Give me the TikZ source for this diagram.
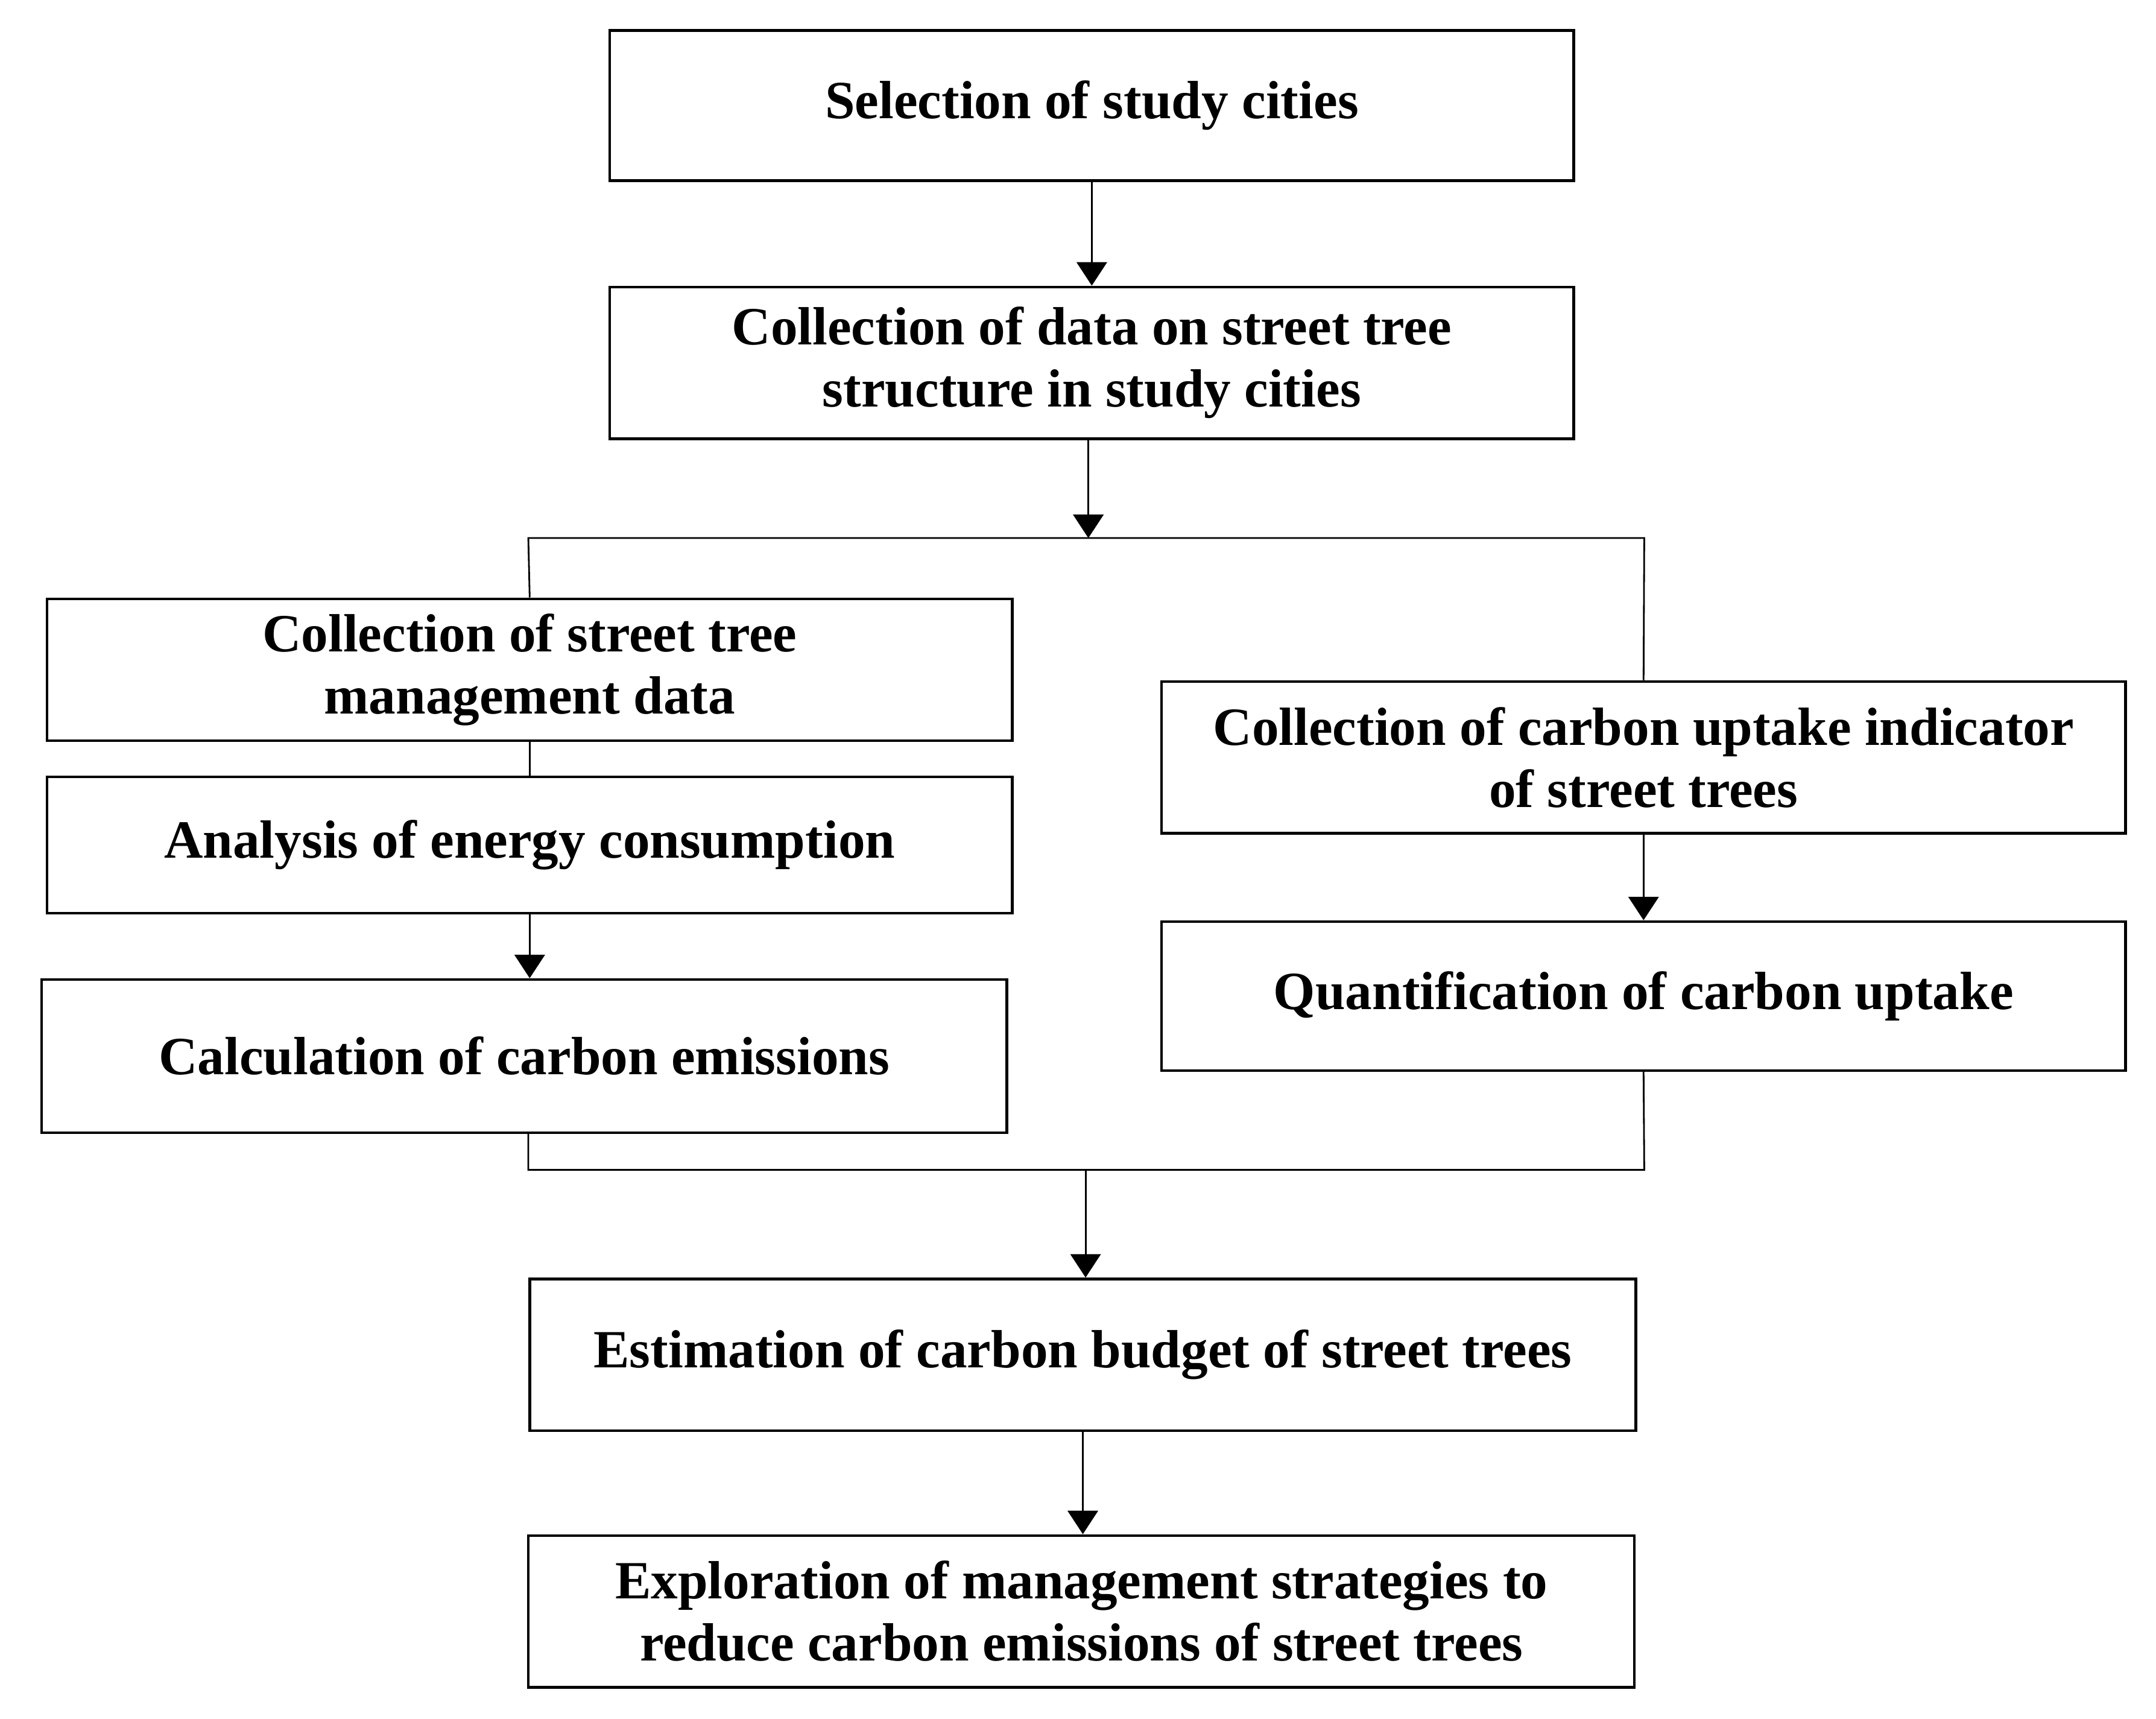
\documentclass[tikz,border=0pt]{standalone}
\usepackage{fontspec}
\setmainfont{Liberation Serif}
\usetikzlibrary{arrows.meta}

\tikzset{
    caja/.style={draw, line width=1.1pt, align=center, inner sep=0pt,
        font=\bfseries\fontsize{22.2}{25.6}\selectfont},
    linea/.style={line width=0.7pt},
    flecha/.style={linea, -{Triangle[width=0.44cm, length=0.34cm]}}
}

\begin{document}
\begin{tikzpicture}[x=0.02cm, y=-0.02cm]

    % Marco de la figura
    \useasboundingbox (0,0) rectangle (1563,1245.6);

    % Cajas de la columna central
    \node[caja, minimum width=13.98cm, minimum height=2.18cm] (sel) at (791.5,76.5) {Selection of study cities};
    \node[caja, minimum width=13.98cm, minimum height=2.2cm] (coll) at (791.5,263) {Collection of data on street tree\\structure in study cities};

    % Rama izquierda
    \node[caja, minimum width=14cm, minimum height=2.06cm] (mgmt) at (384,485.5) {Collection of street tree\\management data};
    \node[caja, minimum width=14cm, minimum height=1.98cm] (energy) at (384,612.5) {Analysis of energy consumption};
    \node[caja, minimum width=14cm, minimum height=2.22cm] (emis) at (380,765.5) {Calculation of carbon emissions};

    % Rama derecha
    \node[caja, minimum width=13.98cm, minimum height=2.2cm] (indic) at (1191.5,549) {Collection of carbon uptake indicator\\of street trees};
    \node[caja, minimum width=13.98cm, minimum height=2.16cm] (uptake) at (1191.5,722) {Quantification of carbon uptake};

    % Cajas finales
    \node[caja, minimum width=16.04cm, minimum height=2.2cm] (budget) at (785,982) {Estimation of carbon budget of street trees};
    \node[caja, minimum width=16.04cm, minimum height=2.2cm] (strat) at (784,1168) {Exploration of management strategies to\\reduce carbon emissions of street trees};

    % Puntos de las barras
    \coordinate (split) at (789,390);
    \coordinate (barL) at (383,390);
    \coordinate (barR) at (1192,390);
    \coordinate (joinL) at (383,848);
    \coordinate (joinR) at (1192,848);
    \coordinate (join) at (787,848);

    % Conectores
    \draw[flecha] (sel) -- (sel.south |- coll.north);
    \draw[flecha] (coll.south -| split) -- (split);
    \draw[linea] (mgmt.north) -- (barL) -- (barR) -- (indic.north);
    \draw[linea] (mgmt) -- (energy);
    \draw[flecha] (energy.south) -- (energy.south |- emis.north);
    \draw[flecha] (indic) -- (uptake);
    \draw[linea] (emis.south -| joinL) -- (joinL) -- (joinR) -- (uptake.south);
    \draw[flecha] (join) -- (join |- budget.north);
    \draw[flecha] (budget.south) -- (budget.south |- strat.north);

\end{tikzpicture}
\end{document}
